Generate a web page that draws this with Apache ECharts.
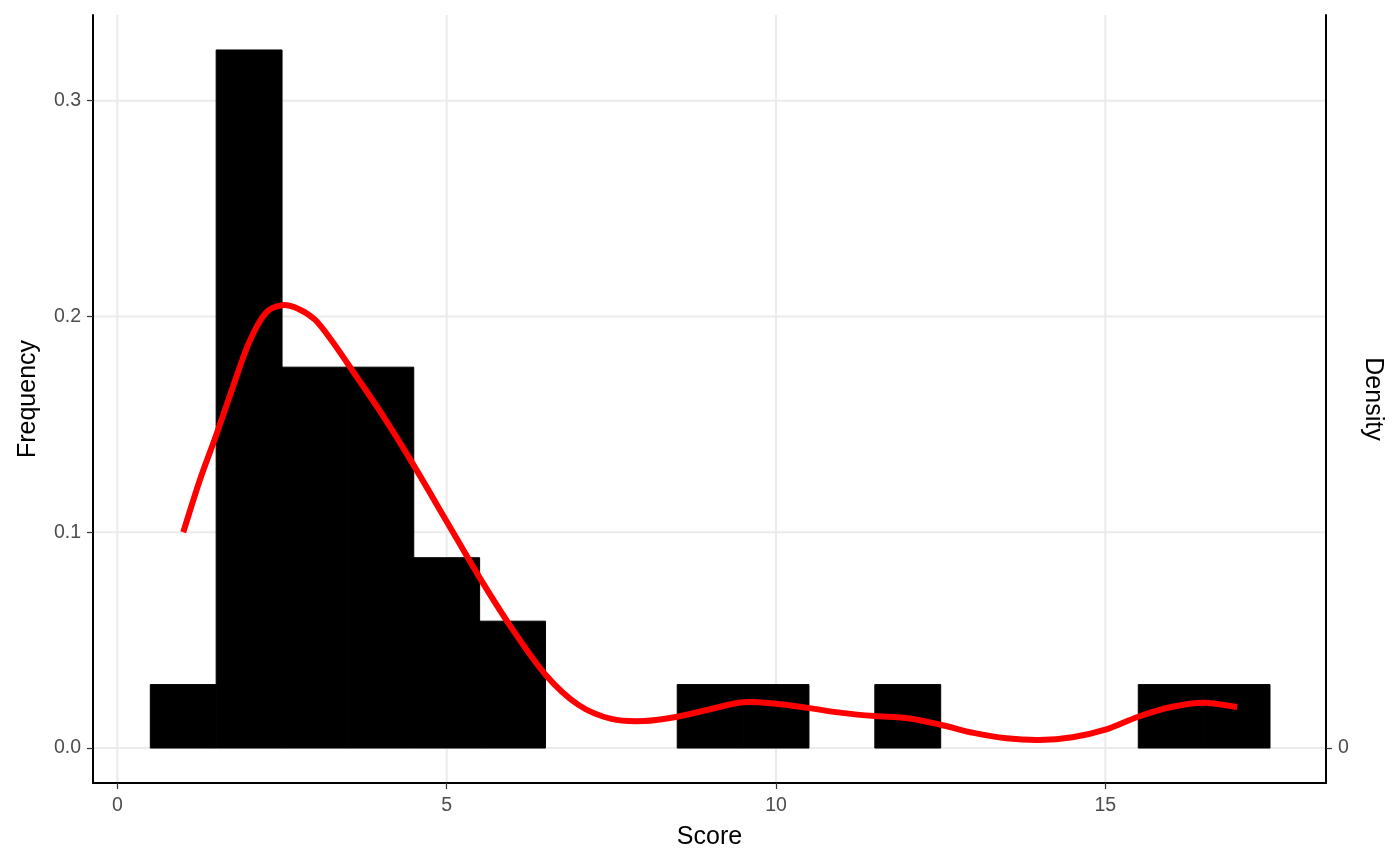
<!DOCTYPE html>
<html>
<head>
<meta charset="utf-8">
<script src="https://cdn.jsdelivr.net/npm/echarts@6.0.0/dist/echarts.min.js"></script>
<style>html,body{margin:0;padding:0;background:#fff}#chart{width:1400px;height:866px}</style>
</head>
<body>
<div id="chart"></div>
<script>
// Histogram bins (Score) and relative frequencies
const binStart = [0.5, 1.5, 2.5, 3.5, 4.5, 5.5, 8.5, 9.5, 11.5, 15.5, 16.5];
const binEnd   = [1.5, 2.5, 3.5, 4.5, 5.5, 6.5, 9.5, 10.5, 12.5, 16.5, 17.5];
const freq     = [0.0294, 0.3235, 0.1765, 0.1765, 0.0882, 0.0588, 0.0294, 0.0294, 0.0294, 0.0294, 0.0294];

// Density curve
const densX = [1, 1.25, 1.5, 1.75, 2, 2.25, 2.5, 2.75, 3, 3.25, 3.5, 4, 4.5, 5, 5.5, 6, 6.5, 7, 7.5, 8, 8.5, 9, 9.5, 10, 10.5, 11, 11.5, 12, 12.5, 13, 13.5, 14, 14.5, 15, 15.5, 16, 16.5, 17];
const densY = [0.100, 0.124, 0.145, 0.167, 0.188, 0.2015, 0.2052, 0.2035, 0.1985, 0.189, 0.178, 0.1555, 0.131, 0.105, 0.079, 0.055, 0.034, 0.020, 0.0135, 0.0125, 0.0145, 0.018, 0.0212, 0.0205, 0.0185, 0.0163, 0.0148, 0.0138, 0.0108, 0.007, 0.0045, 0.0037, 0.005, 0.0085, 0.0145, 0.019, 0.021, 0.019];

// Tick labels
const xTicks = [0, 5, 10, 15];
const yTicks = [0, 0.1, 0.2, 0.3];
const y2Ticks = [0];

const xMin = -0.37, xMax = 18.35, yMin = -0.0162, yMax = 0.3397;

const chart = echarts.init(document.getElementById('chart'), null, {renderer: 'canvas'});
const font = 'Liberation Sans, Arial, sans-serif';
const gridColor = '#ebebeb';
const tickFont = 19.5;
const titleFont = 25;

const option = {
  backgroundColor: '#fff',
  animation: false,
  grid: {left: 93, right: 74, top: 15, bottom: 83, containLabel: false},
  xAxis: {
    type: 'value', min: xMin, max: xMax,
    name: 'Score', nameLocation: 'middle', nameGap: 42,
    nameTextStyle: {fontFamily: font, fontSize: titleFont, color: '#000'},
    axisLine: {show: true, onZero: false, lineStyle: {color: '#000', width: 2}},
    axisTick: {show: true, customValues: xTicks, length: 6, lineStyle: {color: '#333', width: 1.2}},
    axisLabel: {customValues: xTicks, fontFamily: font, fontSize: tickFont, color: '#4d4d4d', margin: 13},
    splitLine: {show: false}
  },
  yAxis: [{
    type: 'value', min: yMin, max: yMax, position: 'left',
    name: 'Frequency', nameLocation: 'middle', nameGap: 52, nameRotate: 90,
    nameTextStyle: {fontFamily: font, fontSize: titleFont, color: '#000'},
    axisLine: {show: true, onZero: false, lineStyle: {color: '#000', width: 2}},
    axisTick: {show: true, customValues: yTicks, length: 6, lineStyle: {color: '#333', width: 1.2}},
    axisLabel: {customValues: yTicks, fontFamily: font, fontSize: tickFont, color: '#4d4d4d', margin: 12,
      formatter: v => v.toFixed(1)},
    splitLine: {show: false}
  }, {
    type: 'value', min: yMin, max: yMax, position: 'right',
    name: 'Density', nameLocation: 'middle', nameGap: 34, nameRotate: -90,
    nameTextStyle: {fontFamily: font, fontSize: titleFont, color: '#000'},
    axisLine: {show: true, onZero: false, lineStyle: {color: '#000', width: 2}},
    axisTick: {show: true, customValues: y2Ticks, length: 6, lineStyle: {color: '#333', width: 1.2}},
    axisLabel: {customValues: y2Ticks, fontFamily: font, fontSize: tickFont, color: '#4d4d4d', margin: 12,
      formatter: v => String(Math.round(v))},
    splitLine: {show: false}
  }],
  series: [
    {
      type: 'custom', z: 0, silent: true,
      data: [[0, 0]],
      renderItem: function (params, api) {
        const cs = params.coordSys;
        const children = [];
        xTicks.forEach(v => {
          const px = api.coord([v, 0])[0];
          children.push({type: 'line', shape: {x1: px, y1: cs.y, x2: px, y2: cs.y + cs.height},
            style: {stroke: gridColor, lineWidth: 2}});
        });
        yTicks.forEach(v => {
          const py = api.coord([0, v])[1];
          children.push({type: 'line', shape: {x1: cs.x, y1: py, x2: cs.x + cs.width, y2: py},
            style: {stroke: gridColor, lineWidth: 2}});
        });
        return {type: 'group', children: children};
      }
    },
    {
      type: 'custom', z: 2,
      data: binStart.map((s, i) => [s, binEnd[i], freq[i]]),
      renderItem: function (params, api) {
        const p0 = api.coord([api.value(0), 0]);
        const p1 = api.coord([api.value(1), api.value(2)]);
        return {
          type: 'rect',
          shape: {x: p0[0], y: p1[1], width: p1[0] - p0[0], height: p0[1] - p1[1]},
          style: {fill: '#000', stroke: '#000', lineWidth: 1}
        };
      },
      encode: {x: [0, 1], y: 2}
    },
    {
      type: 'custom', z: 3, silent: true,
      data: densX.map((x, i) => [x, densY[i]]),
      encode: {x: 0, y: 1},
      renderItem: function (params, api) {
        if (params.dataIndex !== 0) return null;
        const pts = densX.map((x, i) => api.coord([x, densY[i]]));
        const n = pts.length;
        let d = 'M' + pts[0][0] + ' ' + pts[0][1];
        for (let i = 0; i < n - 1; i++) {
          const p0 = pts[Math.max(i - 1, 0)], p1 = pts[i], p2 = pts[i + 1], p3 = pts[Math.min(i + 2, n - 1)];
          // tangent scaled by segment length for non-uniform spacing
          const h = p2[0] - p1[0];
          const t1x = (p2[0] - p0[0]) / Math.max(p2[0] - p0[0], 1e-6) * h;
          const t1y = (p2[1] - p0[1]) / Math.max(p2[0] - p0[0], 1e-6) * h;
          const t2x = (p3[0] - p1[0]) / Math.max(p3[0] - p1[0], 1e-6) * h;
          const t2y = (p3[1] - p1[1]) / Math.max(p3[0] - p1[0], 1e-6) * h;
          const c1x = p1[0] + t1x / 3, c1y = p1[1] + t1y / 3;
          const c2x = p2[0] - t2x / 3, c2y = p2[1] - t2y / 3;
          d += ' C' + c1x + ' ' + c1y + ' ' + c2x + ' ' + c2y + ' ' + p2[0] + ' ' + p2[1];
        }
        return {
          type: 'path',
          shape: {pathData: d},
          style: {fill: null, stroke: '#ff0000', lineWidth: 6, lineCap: 'butt', lineJoin: 'round'}
        };
      }
    }
  ]
};
chart.setOption(option);
</script>
</body>
</html>
